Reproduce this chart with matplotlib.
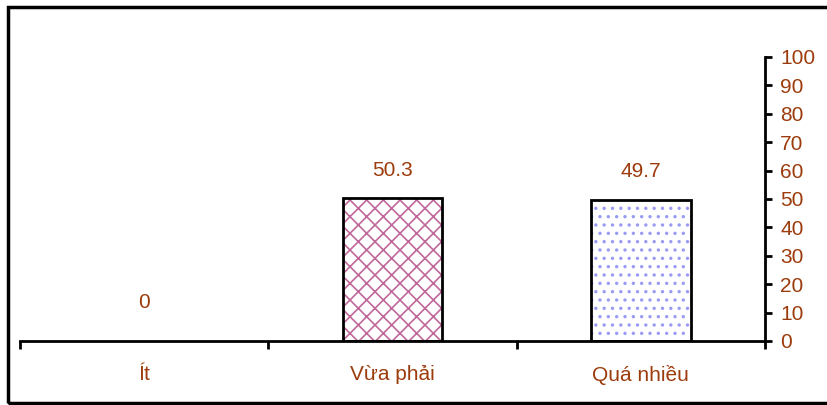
import matplotlib
matplotlib.use("Agg")
import matplotlib.pyplot as plt
from matplotlib.patches import Rectangle

plt.rcParams['font.family'] = ['Liberation Sans', 'DejaVu Sans']

# data
categories = ['Ít', 'Vừa phải', 'Quá nhiều']
values = [0, 50.3, 49.7]
hatches = ['', 'xx', '..']
hatch_colors = ['#c0689a', '#c0689a', '#9a9af5']
label_color = '#9c3b0c'

fig = plt.figure(figsize=(8.27, 4.05), dpi=100)
ax = fig.add_axes([20 / 827, 64 / 405, 745 / 827, 284 / 405])

x = list(range(len(categories)))
plt.rcParams['hatch.linewidth'] = 1.2
for i, v in enumerate(values):
    if v > 0:
        # hatch fill first, then black outline on top
        ax.bar(x[i], v, width=0.4, color='white', edgecolor=hatch_colors[i],
               hatch=hatches[i], linewidth=0, zorder=2)
        ax.bar(x[i], v, width=0.4, fill=False, edgecolor='black', linewidth=2, zorder=3)
    off = 28 if v > 0 else 38
    ax.annotate(f'{v:g}', (x[i], v), xytext=(0, off * 0.72), textcoords='offset points',
                ha='center', va='center', fontsize=15, color=label_color)

ax.set_xlim(-0.5, 2.5)
ax.set_ylim(0, 100)

# y axis on the right
ax.yaxis.tick_right()
ax.set_yticks(range(0, 101, 10))
ax.tick_params(axis='y', direction='out', length=5, width=2, color='black',
               labelsize=15, labelcolor=label_color, pad=6)

# category boundaries as major ticks, labels on minor ticks
ax.set_xticks([-0.5, 0.5, 1.5, 2.5])
ax.set_xticklabels([])
ax.set_xticks(x, minor=True)
ax.set_xticklabels(categories, minor=True)
ax.tick_params(axis='x', which='major', direction='out', length=6, width=2)
ax.tick_params(axis='x', which='minor', length=0, labelsize=15,
               labelcolor=label_color, pad=17)

for s in ['top', 'left']:
    ax.spines[s].set_visible(False)
ax.spines['bottom'].set_linewidth(2)
ax.spines['right'].set_linewidth(2)

# outer frame
fig.patches.append(Rectangle((8 / 827, 2 / 405), 1.1, 396 / 405, transform=fig.transFigure,
                             fill=False, edgecolor='black', linewidth=2.5, clip_on=False))

fig.savefig('out.png', dpi=100)
